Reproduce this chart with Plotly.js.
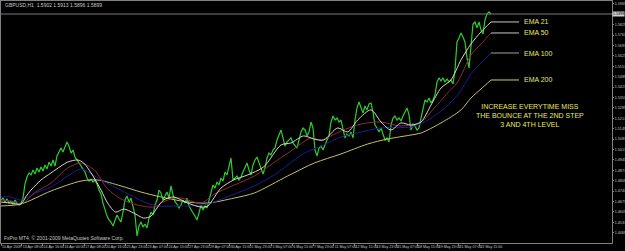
<!DOCTYPE html>
<html><head><meta charset="utf-8">
<script src="https://cdn.plot.ly/plotly-3.0.1.min.js"></script>
<style>html,body{margin:0;padding:0;background:#000;}#chart{width:625px;height:251px;}</style>
</head><body><div id="chart"></div>
<script>
// GBPUSD H1 close, sampled every 3 bars
const priceClose = [
1.4683,1.4696,1.4670,1.4690,1.4663,1.4676,1.4657,1.4683,1.4663,1.4650,
1.4663,1.4696,1.4788,1.4833,1.4860,1.4847,1.4879,1.4853,1.4892,1.4866,
1.4899,1.4873,1.4912,1.4886,1.4931,1.4905,1.4945,1.4905,1.4971,1.4997,
1.5023,1.4997,1.5036,1.5062,1.5036,1.4990,1.5010,1.4964,1.4945,1.4925,
1.4905,1.4892,1.4866,1.4827,1.4807,1.4820,1.4801,1.4814,1.4788,1.4748,
1.4722,1.4663,1.4618,1.4578,1.4552,1.4539,1.4513,1.4552,1.4585,1.4559,
1.4539,1.4604,1.4683,1.4709,1.4670,1.4696,1.4644,1.4585,1.4448,1.4513,
1.4539,1.4506,1.4526,1.4500,1.4565,1.4604,1.4585,1.4650,1.4683,1.4748,
1.4729,1.4683,1.4709,1.4735,1.4696,1.4775,1.4716,1.4670,1.4657,1.4631,
1.4650,1.4683,1.4663,1.4696,1.4644,1.4618,1.4598,1.4578,1.4552,1.4598,
1.4650,1.4618,1.4644,1.4631,1.4683,1.4735,1.4781,1.4761,1.4801,1.4781,
1.4827,1.4807,1.4866,1.4847,1.4912,1.4958,1.4814,1.4827,1.4840,1.4814,
1.4833,1.4866,1.4892,1.4925,1.4879,1.4847,1.4912,1.4945,1.4964,1.4931,
1.4892,1.4853,1.4892,1.4958,1.4990,1.4977,1.5010,1.5023,1.5075,1.5108,
1.5141,1.5089,1.5036,1.5062,1.5075,1.5089,1.5056,1.5036,1.5023,1.5075,
1.5128,1.5154,1.5141,1.5102,1.5128,1.5193,1.5154,1.5010,1.4971,1.5023,
1.5036,1.5010,1.5049,1.5075,1.5102,1.5193,1.5232,1.5206,1.5219,1.5193,
1.5206,1.5141,1.5089,1.5115,1.5102,1.5128,1.5089,1.5206,1.5285,1.5324,
1.5285,1.5252,1.5298,1.5272,1.5311,1.5317,1.5258,1.5173,1.5154,1.5128,
1.5154,1.5108,1.5075,1.5089,1.5062,1.5173,1.5219,1.5232,1.5206,1.5219,
1.5200,1.5232,1.5258,1.5285,1.5239,1.5141,1.5180,1.5167,1.5141,1.5154,
1.5219,1.5285,1.5337,1.5324,1.5350,1.5317,1.5337,1.5370,1.5455,1.5481,
1.5461,1.5481,1.5455,1.5474,1.5455,1.5468,1.5442,1.5533,1.5716,1.5742,
1.5775,1.5749,1.5716,1.5612,1.5546,1.5690,1.5834,1.5847,1.5808,1.5847,
1.5795,1.5769,1.5860,1.5899,1.5913,1.5899
];
const priceBar = priceClose.map((_, i) => i * 3);

const ema21Bar = [0,15,30,37,45,60,75,90,100,115,124,138,150,160,172,184,199,214,225,235,244,259,280,300,310,330,349,370,394,420,435,454,469,484,505,520,535,555,570,585,600,615,630,645,660,675,690,705,720,735];
const ema21 = [1.4670,1.4663,1.4657,1.4703,1.4748,1.4814,1.4860,1.4905,1.4931,1.4945,1.4925,1.4840,1.4748,1.4663,1.4604,1.4624,1.4598,1.4565,1.4578,1.4637,1.4683,1.4703,1.4663,1.4637,1.4644,1.4761,1.4814,1.4847,1.4899,1.5043,1.5056,1.5102,1.5082,1.5075,1.5154,1.5128,1.5206,1.5272,1.5193,1.5141,1.5187,1.5173,1.5193,1.5304,1.5415,1.5468,1.5599,1.5703,1.5782,1.5847];

const ema50Bar = [0,15,30,52,75,100,120,140,160,180,205,230,240,255,270,300,320,350,380,415,435,465,480,510,540,570,600,630,650,670,685,705,720,735];
const ema50 = [1.4683,1.4676,1.4657,1.4735,1.4794,1.4892,1.4925,1.4879,1.4755,1.4690,1.4650,1.4637,1.4663,1.4690,1.4696,1.4663,1.4722,1.4781,1.4840,1.4945,1.5003,1.5089,1.5075,1.5134,1.5180,1.5193,1.5167,1.5193,1.5285,1.5383,1.5455,1.5631,1.5703,1.5775];

const ema100Bar = [0,15,30,52,75,105,120,150,185,215,235,262,285,310,350,380,410,450,465,480,510,540,570,615,630,660,685,705,720,735];
const ema100 = [1.4703,1.4703,1.4683,1.4729,1.4768,1.4853,1.4886,1.4814,1.4735,1.4670,1.4644,1.4644,1.4644,1.4657,1.4722,1.4775,1.4847,1.4977,1.5010,1.5036,1.5095,1.5128,1.5154,1.5160,1.5180,1.5265,1.5370,1.5507,1.5579,1.5644];

const ema200Bar = [0,30,75,120,145,180,210,240,280,310,350,380,430,470,510,550,580,615,630,660,690,705,720,735];
const ema200 = [1.4644,1.4657,1.4742,1.4807,1.4814,1.4775,1.4735,1.4703,1.4670,1.4663,1.4696,1.4729,1.4840,1.4925,1.4984,1.5049,1.5082,1.5108,1.5121,1.5187,1.5272,1.5350,1.5409,1.5468];

const dateLabels = ["10 Apr 2009","13 Apr 08:00","14 Apr 16:00","16 Apr 00:00","17 Apr 08:00","20 Apr 16:00","21 Apr 23:00","23 Apr 07:00","24 Apr 15:00","27 Apr 23:00","29 Apr 07:00","30 Apr 15:00","1 May 23:00","5 May 07:00","6 May 15:00","7 May 23:00","11 May 07:00","12 May 15:00","13 May 23:00","15 May 07:00","18 May 15:00","19 May 23:00","21 May 07:00","22 May 15:00"];
const priceTicks = [1.5965,1.5897,1.5829,1.5761,1.5693,1.5625,1.5557,1.5489,1.5421,1.5353,1.5285,1.5217,1.5149,1.5081,1.5013,1.4945,1.4877,1.4809,1.4741,1.4673,1.4605,1.4537,1.4469,1.4401];
const emaNames = ["EMA 21","EMA 50","EMA 100","EMA 200"];
const bidPrice = 1.5899;
const headerText = "GBPUSD,H1  1.5902 1.5913 1.5896 1.5899";
const noteText = "INCREASE EVERYTIME MISS<br>THE BOUNCE AT THE 2ND STEP<br>3 AND 4TH LEVEL";

const W=625,H=251,L=1,R=13,T=1,B=8;
const pw=W-L-R, ph=H-T-B;
const px = x => (x-L)/pw;
const py = y => (H-B-y)/ph;
const dateTickPos = dateLabels.map((_, i) => i*31.2);
// the bid-price box takes the place of the nearest scale label
const shownTicks = priceTicks.filter(v => Math.abs(v - bidPrice) > 0.003);

const txt = '#e8e860';
const fam = 'Liberation Sans Narrow, Liberation Sans, Arial';
const xFont = {family:fam, size:3.6, color:'#c8c8c8'};
const yFont = {family:fam, size:3.7, color:'#c8c8c8'};
const emaColors = ['#d8d8c8','#8a2e3a','#1c1c9a','#c8bf6a'];
const ptrColors = ['#c8c8c0','#c8c8c0','#a0a0a0','#6a6a34'];

const traces = [
  {x: priceBar, y: priceClose, type:'scatter', mode:'lines', line:{color:'#2dcf2d', width:1.2}, hoverinfo:'skip'},
  {x: ema200Bar, y: ema200, type:'scatter', mode:'lines', line:{color:emaColors[3], width:1, shape:'spline', smoothing:0.8}},
  {x: ema100Bar, y: ema100, type:'scatter', mode:'lines', line:{color:emaColors[2], width:1, shape:'spline', smoothing:0.8}},
  {x: ema50Bar, y: ema50, type:'scatter', mode:'lines', line:{color:emaColors[1], width:1, shape:'spline', smoothing:0.8}},
  {x: ema21Bar, y: ema21, type:'scatter', mode:'lines', line:{color:emaColors[0], width:1, shape:'spline', smoothing:0.8}}
];

const emaEnds = [ema21, ema50, ema100, ema200].map(a => a[a.length-1]);
const endBar = priceBar[priceBar.length-1];

const shapes = [
  {type:'line', xref:'paper', yref:'y', x0:0, x1:1, y0:bidPrice, y1:bidPrice, line:{color:'#7a7a7a', width:1}}
];
emaEnds.forEach((v,i) => shapes.push({type:'line', xref:'x', yref:'y', x0:endBar, x1:endBar+42, y0:v, y1:v, line:{color:ptrColors[i], width: i===3?2:1}}));

const annotations = [
  {xref:'paper', yref:'paper', x:px(3), y:py(5), xanchor:'left', yanchor:'middle', text:headerText, showarrow:false, font:{family:fam, size:5, color:'#c8c8c8'}},
  {xref:'paper', yref:'paper', x:px(2), y:py(238), xanchor:'left', yanchor:'middle', text:'FxPro MT4, © 2001-2009 MetaQuotes Software Corp.', showarrow:false, font:{family:fam, size:5, color:'#c8c8c8'}},
  {xref:'paper', yref:'paper', x:px(530), y:py(115), xanchor:'center', yanchor:'middle', align:'center', text:noteText, showarrow:false, font:{family:'Liberation Sans, Arial', size:7, color:txt}},
  {xref:'paper', yref:'y', x:1, y:bidPrice, xanchor:'left', yanchor:'middle', text:bidPrice.toFixed(4), showarrow:false, bgcolor:'#d0d0d0', borderpad:0, font:{family:fam, size:3.7, color:'#000'}}
];
emaEnds.forEach((v,i) => annotations.push({xref:'x', yref:'y', x:endBar+46, y:v, xanchor:'left', yanchor:'middle', text:emaNames[i], showarrow:false, font:{family:'Liberation Sans, Arial', size:7, color:txt}}));

const layout = {
  width:W, height:H, margin:{l:L, r:R, t:T, b:B, pad:0},
  paper_bgcolor:'#000', plot_bgcolor:'#000', showlegend:false,
  xaxis:{range:[0, pw*1.5], tickvals:dateTickPos, ticktext:dateLabels, ticklabelposition:'outside right', tickangle:0,
    tickfont:xFont, ticks:'outside', ticklen:2, tickcolor:'#808080', automargin:false,
    showline:true, linecolor:'#808080', linewidth:1, mirror:true, showgrid:false, zeroline:false, fixedrange:true},
  yaxis:{side:'right', range:[1.4402, 1.5984], tickvals:shownTicks, ticktext:shownTicks.map(v=>v.toFixed(4)),
    tickfont:yFont, ticks:'outside', ticklen:1, tickcolor:'#808080', automargin:false,
    showline:true, linecolor:'#808080', linewidth:1, mirror:true, showgrid:false, zeroline:false, fixedrange:true},
  shapes, annotations
};
Plotly.newPlot('chart', traces, layout, {staticPlot:true, displayModeBar:false});
</script></body></html>
